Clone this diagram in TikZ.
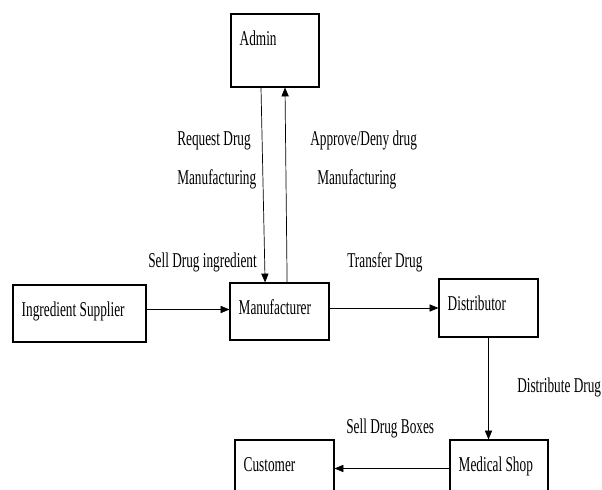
\documentclass[tikz,border=0pt]{standalone}
\usepackage{fontspec}
\setmainfont{Liberation Serif}
\usetikzlibrary{arrows.meta}
\newcommand{\nm}[1]{\scalebox{0.63}[1]{#1}}

\begin{document}
\begin{tikzpicture}[
  box/.style={draw, line width=0.8pt, inner sep=0pt},
  txt/.style={anchor=base west, inner sep=0pt, font=\fontsize{15}{18}\selectfont},
  flow/.style={-{Triangle[length=2.2mm,width=1.8mm]}, line width=0.5pt}]
  \useasboundingbox (0,0) rectangle (15.05,12.25);
  \clip (0,0) rectangle (15.05,12.25);
  % boxes
  \node[box, minimum width=2.2cm, minimum height=1.825cm] (admin) at (6.875,10.9875) {};
  \node[box, minimum width=3.325cm, minimum height=1.425cm] (supp) at (1.9875,4.4125) {};
  \node[box, minimum width=2.475cm, minimum height=1.425cm] (manu) at (6.9875,4.4625) {};
  \node[box, minimum width=2.475cm, minimum height=1.45cm] (dist) at (12.2125,4.55) {};
  \node[box, minimum width=2.45cm, minimum height=1.425cm] (shop) at (12.475,0.5375) {};
  \node[box, minimum width=2.475cm, minimum height=1.425cm] (cust) at (7.1125,0.5375) {};
  % box texts
  \node[txt] (admint) at ([shift={(0.225,-0.8)}]admin.north west) {\nm{Admin}};
  \node[txt] (suppt) at ([shift={(0.225,-0.8)}]supp.north west) {\nm{Ingredient Supplier}};
  \node[txt] (manut) at ([shift={(0.225,-0.8)}]manu.north west) {\nm{Manufacturer}};
  \node[txt] (distt) at ([shift={(0.225,-0.8)}]dist.north west) {\nm{Distributor}};
  \node[txt] (shopt) at ([shift={(0.225,-0.8)}]shop.north west) {\nm{Medical Shop}};
  \node[txt] (custt) at ([shift={(0.225,-0.8)}]cust.north west) {\nm{Customer}};
  % connectors
  \draw[flow] ([xshift=-0.35cm]admin.south) -- ([xshift=-0.36cm]manu.north);
  \draw[flow] ([xshift=0.19cm]manu.north) -- ([xshift=0.25cm]admin.south);
  \draw[flow] ([yshift=0.1cm]supp.east) -- ([yshift=0.1cm]supp.east -| manu.west);
  \draw[flow] (dist.west -| manu.east) -- (dist.west);
  \draw[flow] (dist.south) -- (dist.south |- shop.north);
  \draw[flow] (shop.west) -- (shop.west -| cust.east);
  % flow labels
  \node[txt] (req) at (4.425,8.6) {\nm{Request Drug}};
  \node[txt] (reqm) at (4.425,7.625) {\nm{Manufacturing}};
  \node[txt] (appr) at (7.75,8.6) {\nm{Approve/Deny drug}};
  \node[txt] (apprm) at (7.925,7.625) {\nm{Manufacturing}};
  \node[txt] (sell) at (3.7,5.55) {\nm{Sell Drug ingredient}};
  \node[txt] (trans) at (8.675,5.55) {\nm{Transfer Drug}};
  \node[txt] (distr) at (12.925,2.425) {\nm{Distribute Drug}};
  \node[txt] (boxes) at (8.65,1.4) {\nm{Sell Drug Boxes}};
\end{tikzpicture}
\end{document}
